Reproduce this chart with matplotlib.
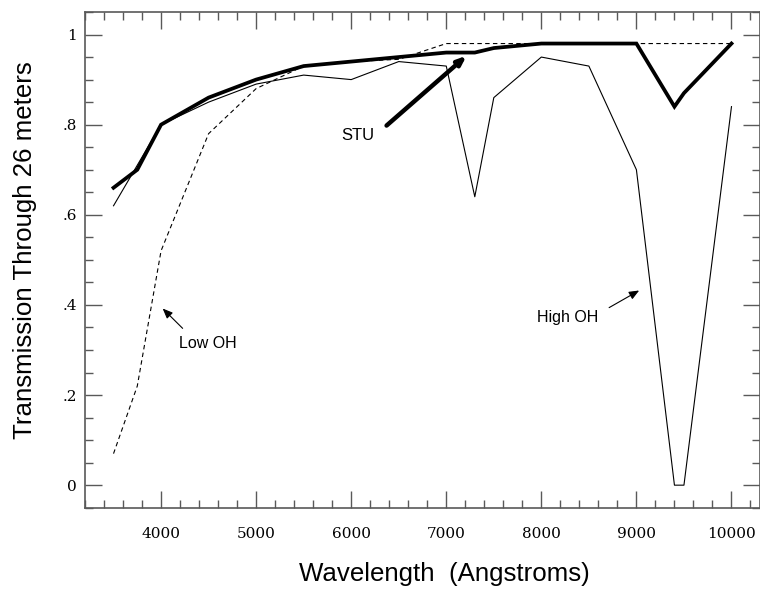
import numpy as np
import matplotlib
matplotlib.use('Agg')
import matplotlib.pyplot as plt
from matplotlib.ticker import MultipleLocator, FuncFormatter

# Wavelengths (Angstroms) and transmission through 26 meters
wave_stu = [3500, 3750, 4000, 4500, 5000, 5500, 6000, 6500, 7000, 7300, 7500, 8000, 9000, 9400, 9500, 10000]
trans_stu = [0.66, 0.70, 0.80, 0.86, 0.90, 0.93, 0.94, 0.95, 0.96, 0.96, 0.97, 0.98, 0.98, 0.84, 0.87, 0.98]

wave_high = [3500, 3750, 4000, 4500, 5000, 5500, 6000, 6500, 7000, 7300, 7500, 8000, 8500, 9000, 9400, 9500, 10000]
trans_high = [0.62, 0.71, 0.80, 0.85, 0.89, 0.91, 0.90, 0.94, 0.93, 0.64, 0.86, 0.95, 0.93, 0.70, 0.0, 0.0, 0.84]

wave_low = [3500, 3750, 4000, 4500, 5000, 5500, 6000, 6500, 7000, 8000, 9000, 10000]
trans_low = [0.07, 0.22, 0.52, 0.78, 0.88, 0.93, 0.94, 0.945, 0.98, 0.98, 0.98, 0.98]

W, H = 760, 589
fig = plt.figure(figsize=(W / 100, H / 100), dpi=100)
ax = fig.add_axes([85 / W, (H - 507.7) / H, 675 / W, (507.7 - 12) / H])

ax.plot(wave_low, trans_low, color='k', lw=0.8, dashes=(4, 3))
ax.plot(wave_high, trans_high, color='k', lw=0.8)
ax.plot(wave_stu, trans_stu, color='k', lw=2.7, solid_joinstyle='miter')

ax.set_xlim(3200, 10300)
ax.set_ylim(-0.05, 1.05)

# Annotations
ax.annotate('', xy=(7214, 0.953), xytext=(6372, 0.798),
            arrowprops=dict(arrowstyle='-|>,head_length=0.5,head_width=0.2', lw=3.2, color='k',
                            shrinkA=0, shrinkB=0))
ax.text(6075, 0.777, 'STU', fontsize=12, family='Liberation Sans', ha='center', va='center')

ax.annotate('', xy=(4017, 0.392), xytext=(4227, 0.348),
            arrowprops=dict(arrowstyle='-|>,head_length=0.6,head_width=0.25', lw=0.8, color='k',
                            shrinkA=0, shrinkB=0))
ax.text(4488, 0.315, 'Low OH', fontsize=11.5, family='Liberation Sans', ha='center', va='center')

ax.annotate('', xy=(9029, 0.432), xytext=(8713, 0.394),
            arrowprops=dict(arrowstyle='-|>,head_length=0.6,head_width=0.25', lw=0.8, color='k',
                            shrinkA=0, shrinkB=0))
ax.text(8280, 0.372, 'High OH', fontsize=11.5, family='Liberation Sans', ha='center', va='center')

# Ticks on all sides, pointing in
ax.xaxis.set_major_locator(MultipleLocator(1000))
ax.xaxis.set_minor_locator(MultipleLocator(200))
ax.yaxis.set_major_locator(MultipleLocator(0.2))
ax.yaxis.set_minor_locator(MultipleLocator(0.05))


def yfmt(v, pos):
    if abs(v) < 1e-9:
        return '0'
    if abs(v - 1) < 1e-9:
        return '1'
    return f'{v:.1f}'.lstrip('0')


ax.yaxis.set_major_formatter(FuncFormatter(yfmt))
ax.tick_params(which='both', direction='in', top=True, right=True, color='0.35', width=1.0)
ax.tick_params(which='major', length=12)
ax.tick_params(which='minor', length=6)
ax.tick_params(axis='x', which='major', pad=14)
ax.tick_params(axis='y', which='major', pad=6)
for lab in ax.get_xticklabels() + ax.get_yticklabels():
    lab.set_family('DejaVu Serif')
    lab.set_fontsize(11)
for sp in ax.spines.values():
    sp.set_color('0.35')
    sp.set_linewidth(1.2)

fig.text(444 / W, 1 - 574 / H, 'Wavelength  (Angstroms)', fontsize=18.6,
         family='Liberation Sans', ha='center', va='center')
fig.text(25 / W, 1 - 250 / H, 'Transmission Through 26 meters', fontsize=18.6,
         family='Liberation Sans', ha='center', va='center', rotation=90)

fig.savefig('out.png', dpi=100)
